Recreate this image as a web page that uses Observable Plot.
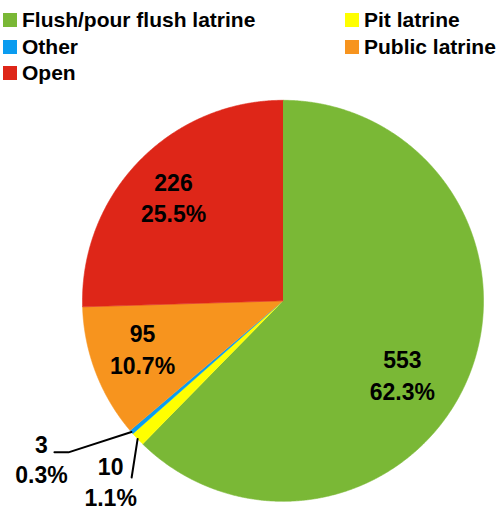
<!DOCTYPE html>
<html>
<head>
<meta charset="utf-8">
<script src="https://cdn.jsdelivr.net/npm/d3@7"></script>
<script src="https://cdn.jsdelivr.net/npm/@observablehq/plot@0.6"></script>
<style>
  html, body { margin: 0; padding: 0; background: #fff; }
  #wrap { position: relative; width: 498px; height: 510px; overflow: hidden; font-family: "Liberation Sans", Arial, sans-serif; }
  #legend { position: relative; width: 498px; height: 90px; }
  .item { position: absolute; display: flex; align-items: center; height: 20px; font-size: 21px; font-weight: bold; color: #000; white-space: nowrap; }
  .sw { width: 14px; height: 14px; margin-right: 5px; flex: none; }
  #chart svg { display: block; }
</style>
</head>
<body>
<div id="wrap">
  <div id="legend"></div>
  <div id="chart"></div>
</div>
<script>
// ---- data ----
const categories = ["Flush/pour flush latrine", "Pit latrine", "Other", "Public latrine", "Open"];
const counts = [553, 10, 3, 95, 226];
const colors = ["#7ab836", "#ffff00", "#0a9cf0", "#f7941e", "#de2618"];

// ---- layout (styles / placement, not data) ----
const W = 498, H = 420;
const R = 200.5, CX = 282.5, CY = 210.3; // pie radius and centre in px
// label nudges in px (x right, y down) and callout geometry relative to slice edge
const insideNudge = {"Flush/pour flush latrine": [-18, 17], "Public latrine": [-2, -6], "Open": [-3, -1]};
const callouts = {
  "Other": {path: [[0, 0], [-63, 20.3], [-77, 20.3]], text: [-90, 26]},
  "Pit latrine": {path: [[0, 0], [-6, 38.6]], text: [-27, 42]}
};

const total = d3.sum(counts);
const pct = d3.format(".1f");
const pie = d3.pie().sort(null).value(d => d.count);
const arcs = pie(categories.map((key, i) => ({key, count: counts[i]})));

// slice polygons in data space (unit circle, y up)
const slicePts = [];
for (const a of arcs) {
  const key = a.data.key;
  slicePts.push({key, x: 0, y: 0});
  const n = Math.max(2, Math.ceil((a.endAngle - a.startAngle) / (Math.PI / 720)));
  for (let j = 0; j <= n; j++) {
    const t = a.startAngle + (a.endAngle - a.startAngle) * j / n;
    slicePts.push({key, x: Math.sin(t), y: Math.cos(t)});
  }
}

const labelOf = a => `${a.data.count}\n${pct(a.data.count / total * 100)}%`;
const mid = a => (a.startAngle + a.endAngle) / 2;

// inside labels
const insideLabels = arcs.filter(a => !callouts[a.data.key]).map(a => {
  const m = mid(a), k = 0.74;
  const [nx, ny] = insideNudge[a.data.key] || [0, 0];
  return {key: a.data.key, x: k * Math.sin(m) + nx / R, y: k * Math.cos(m) - ny / R, text: labelOf(a)};
});

// callout lines and labels
const calloutLines = [], calloutLabels = [];
for (const a of arcs) {
  const c = callouts[a.data.key];
  if (!c) continue;
  const m = mid(a), ex = Math.sin(m), ey = Math.cos(m);
  for (const [px, py] of c.path) calloutLines.push({key: a.data.key, x: ex + px / R, y: ey - py / R});
  calloutLabels.push({x: ex + c.text[0] / R, y: ey - c.text[1] / R, text: labelOf(a)});
}

const chart = Plot.plot({
  width: W,
  height: H,
  margin: 0,
  x: {domain: [(0 - CX) / R, (W - CX) / R], axis: null},
  y: {domain: [-(H - CY) / R, CY / R], axis: null},
  color: {domain: categories, range: colors},
  style: {fontFamily: "Liberation Sans, Arial, sans-serif", background: "#fff"},
  marks: [
    Plot.line(slicePts, {x: "x", y: "y", z: "key", fill: "key", stroke: "key", strokeWidth: 0.6, curve: "linear"}),
    Plot.line(calloutLines, {x: "x", y: "y", z: "key", stroke: "#000", strokeWidth: 2, fill: "none"}),
    Plot.text(insideLabels, {x: "x", y: "y", text: "text", fontSize: 23, fontWeight: "bold", lineHeight: 1.37, fill: "#000"}),
    Plot.text(calloutLabels, {x: "x", y: "y", text: "text", fontSize: 23, fontWeight: "bold", lineHeight: 1.32, fill: "#000"})
  ]
});
document.getElementById("chart").appendChild(chart);

// legend (row-major, two columns)
const legend = d3.select("#legend");
categories.forEach((key, i) => {
  const col = i % 2, row = Math.floor(i / 2);
  const item = legend.append("div").attr("class", "item")
    .style("left", (col ? 345 : 3) + "px")
    .style("top", (10 + row * 26.7) + "px");
  item.append("div").attr("class", "sw").style("background", colors[i]);
  item.append("span").text(key);
});
</script>
</body>
</html>
